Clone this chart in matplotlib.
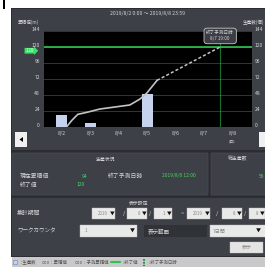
import matplotlib
matplotlib.use("Agg")
import matplotlib.pyplot as plt
import matplotlib.transforms as mtransforms
from matplotlib.patches import Rectangle, FancyBboxPatch, Polygon

plt.rcParams['font.family'] = ['Noto Sans CJK JP', 'DejaVu Sans']

# ---------------------------------------------------------
# Data
# ---------------------------------------------------------
days = ["8/2", "8/3", "8/4", "8/5", "8/6", "8/7", "8/8"]
production = [18, 6, 0, 50, 0, 0, 0]               # 生産数 per day
cum_x = [0.16, 0.35, 0.56, 0.88, 1.34, 2.39, 2.75, 2.99, 3.35]   # days since 8/2
cum_y = [0, 10, 19, 22, 27, 33, 42, 51, 70]         # 累積値
pred_x = [3.35, 5.57]
pred_y = [70, 120]                                  # 予測累積値
end_value = 120
end_pred_x = 5.57
end_pred_label = "終了予測日時\n8/7 19:00"
y_ticks = [0, 24, 48, 72, 96, 120, 144]
period_title = "2019/8/2 0:00 ～ 2019/8/8 23:59"

current_cum = "94"
end_pred_datetime = "2019/8/6 12:00"
end_val_text = "120"
total_prod = "56"

# colours
PANEL = '#3d4047'
GAP = '#2b2d32'
TEXT = '#d4d4d4'
GREEN = '#2fc452'
GREEN_TXT = '#45d85c'
BAR = '#c6d3ef'
LINE = '#c4c4c4'

W, H = 265, 270
fig = plt.figure(figsize=(W / 100, H / 100), dpi=100)
fig.patch.set_facecolor('white')

ui = fig.add_axes([0, 0, 1, 1])
ui.set_xlim(0, W)
ui.set_ylim(H, 0)
ui.axis('off')
ui.set_zorder(0)


def box(x0, y0, x1, y1, fc, ec='none', lw=0.0, r=0.0):
    ui.add_patch(FancyBboxPatch((x0, y0), x1 - x0, y1 - y0,
                                boxstyle=f"round,pad=0,rounding_size={r}",
                                fc=fc, ec=ec, lw=lw))


def label(x, y, s, size=4.2, color=TEXT, ha='left', **kw):
    ui.text(x, y, s, fontsize=size, color=color, ha=ha, va='center', **kw)


def fig_rect(x0, y0, x1, y1):
    return [x0 / W, 1 - y1 / H, (x1 - x0) / W, (y1 - y0) / H]


# ---------------------------------------------------------
# Panels
# ---------------------------------------------------------
ui.add_patch(Rectangle((2.5, 0), 2, 9, fc='black'))
box(11, 8, 266, 257, GAP)
box(12, 9, 266, 150, PANEL)
box(12, 153, 208, 195, PANEL, ec='#4b4e56', lw=0.5, r=1)
box(211, 153, 266, 195, PANEL, ec='#4b4e56', lw=0.5, r=1)
box(12, 198, 266, 256, PANEL)
box(12, 257, 266, 267, '#c9c9c9')

# chart panel texts
label(148, 14, period_title, size=3.7, ha='center')
label(18, 22.5, "累積値(m)", size=3.3)
label(243, 22.5, "生産数(個)", size=3.3)

# scroll buttons
box(15, 132, 27, 147, '#f0f0f0')
ui.add_patch(Polygon([[19.5, 139.5], [23, 137], [23, 142]], fc='black'))
box(259, 132, 267, 147, '#f0f0f0')

# status panel
label(105, 159, "生産状況", size=3.5, ha='center')
label(20, 176, "現在累積値", size=4.2)
label(82, 176, current_cum, size=3.6, color=GREEN_TXT)
label(108, 176, "終了予測日時", size=4.2)
label(162, 176, end_pred_datetime, size=3.5, color=GREEN_TXT)
label(20, 185, "終了値", size=4.2)
label(77, 185, end_val_text, size=3.6, color=GREEN_TXT)
label(238, 159, "総生産数", size=3.5, ha='center')
label(259, 176, total_prod, size=3.6, color=GREEN_TXT)

# display settings
label(139, 203, "表示設定", size=3.5, ha='center')
label(17, 213, "集計期間", size=4.2)
dropdowns = [(92, 115, "2019"), (127, 147, "8"), (154, 172, "1"),
             (187, 210, "2019"), (222, 242, "8"), (249, 265, "8")]
for x0, x1, s in dropdowns:
    box(x0, 208, x1, 219, '#e9e9e9', ec='#bdbdbd', lw=0.3)
    label(x1 - 7, 213.5, s, size=3.2, color='#888888', ha='right')
    label(x1 - 5.5, 213.5, "▼", size=3.4, color='#111111')
for x in (124, 150, 217, 245):
    label(x, 213.5, "/", size=4.2, color='#e0e0e0', ha='center')
label(182, 213.5, "~", size=4.2, color='#e0e0e0', ha='center')

label(17, 231, "ワークカウンタ", size=4.0)
box(80, 225, 137, 237, '#e9e9e9', ec='#bdbdbd', lw=0.3)
label(85, 231, "1", size=3.3, color='#888888')
label(130, 231, "▼", size=3.6, color='#111111')
box(144, 225, 207, 237, '#2f3237')
label(148, 231, "表示範囲", size=4.0)
box(210, 225, 267, 237, '#e9e9e9', ec='#bdbdbd', lw=0.3)
label(213, 231, "7日間", size=3.6, color='#888888')
label(256, 231, "▼", size=3.6, color='#111111')
box(230, 242, 263, 253, '#e4e4e4', ec='#c0c0c0', lw=0.3)
label(246.5, 247.5, "表示", size=3.6, color='#888888', ha='center')

# legend bar
ui.add_patch(Rectangle((13, 259.5), 4, 4.5, fc=BAR, ec='#6a82c4', lw=0.4))
label(18, 262, "：生産数", size=3.2, color='#555555')
label(42, 262, "ooo：累積値", size=3.2, color='#555555')
label(75, 262, "ooo：予測累積値", size=3.2, color='#555555')
ui.plot([111, 120], [262, 262], color=GREEN, lw=1.6, solid_capstyle='round')
label(120, 262, "：終了値", size=3.2, color='#555555')
ui.plot([144, 144], [259, 265.5], color='#1f8a35', lw=1.3, ls=(0, (1, 0.6)))
label(146, 262, "：終了予測日時", size=3.2, color='#555555')

# ---------------------------------------------------------
# Chart
# ---------------------------------------------------------
ax = fig.add_axes(fig_rect(44, 31, 252, 127))
ax.set_zorder(2)
ax.set_facecolor('black')
x = list(range(len(days)))
ax.set_xlim(-0.63, 6.69)
ax.set_ylim(0, 144)
ax.set_yticks(y_ticks)
ax.set_xticks(x)
ax.set_xticklabels(days)
ax.grid(axis='y', color='#4a4a4a', lw=0.5)
ax.set_axisbelow(True)
ax.tick_params(axis='y', length=0, pad=2.9, labelsize=3.6, labelcolor=TEXT)
ax.tick_params(axis='x', length=0, pad=2.8, labelsize=3.8, labelcolor=TEXT)
for s in ax.spines.values():
    s.set_visible(False)

ax.bar(x, production, width=0.39, color=BAR, zorder=3)
ax.plot(cum_x, cum_y, color=LINE, lw=1.2, zorder=4)
ax.plot(pred_x, pred_y, color=LINE, lw=1.1, ls=(0, (2, 1.4)), zorder=4)
ax.axhline(end_value, color=GREEN, lw=1.2, zorder=3)
ax.axvline(end_pred_x, color=GREEN, lw=0.8, ls=(0, (1, 0.8)), zorder=3)

# end-value tag hangs just under the 120 tick label, as on the HMI
ax.annotate(" " + str(end_value) + "  ", xy=(0, end_value),
            xycoords=('axes fraction', 'data'), xytext=(-10, -2.7),
            textcoords='offset points', ha='center', va='center',
            fontsize=3.2, color='#e8ffe8', zorder=6,
            bbox=dict(boxstyle='rarrow,pad=0.08', fc='#3ee06c', ec='none'))
ax.annotate(end_pred_label, xy=(end_pred_x, end_value), xytext=(0, 4),
            textcoords='offset points', ha='center', va='bottom',
            fontsize=3.3, color=TEXT, linespacing=1.25, zorder=6,
            bbox=dict(boxstyle='round,pad=0.5,rounding_size=0.6',
                      fc='#3a3d44', ec='#c8c8c8', lw=0.6))
ax.annotate("(日)", xy=(6, 0), xycoords=('data', 'axes fraction'),
            xytext=(0, -8.5), textcoords='offset points', ha='center',
            va='top', fontsize=2.8, color=TEXT)

ax2 = ax.twinx()
ax2.set_zorder(3)
ax2.patch.set_visible(False)
ax2.set_ylim(0, 144)
ax2.set_yticks(y_ticks)
ax2.tick_params(axis='y', length=0, pad=2.0, labelsize=3.6, labelcolor=TEXT)
for s in ax2.spines.values():
    s.set_visible(False)

# tick labels sit a little above their grid lines, as in the HMI
lift = mtransforms.ScaledTranslation(0, 2.0 / 100, fig.dpi_scale_trans)
for lab in ax.get_yticklabels() + ax2.get_yticklabels():
    lab.set_transform(lab.get_transform() + lift)

fig.savefig("out.png", dpi=100)
